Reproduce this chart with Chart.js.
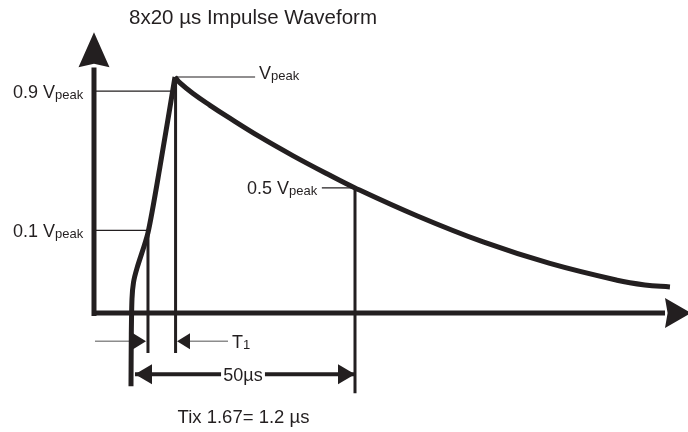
<!DOCTYPE html>
<html>
<head>
<meta charset="utf-8">
<script src="https://cdn.jsdelivr.net/npm/chart.js@4.4.1/dist/chart.umd.min.js"></script>
<style>
  html, body { margin: 0; padding: 0; background: #fff; }
  #wrap { width: 688px; height: 432px; }
</style>
</head>
<body>
<div id="wrap"><canvas id="wave"></canvas></div>
<script>
// time in µs from the foot of the front, amplitude relative to Vpeak
const riseT  = [0, 0.07, 0.22, 0.56, 1.34, 3.79, 6.47, 9.82]
const riseV  = [-0.31, -0.09, 0.06, 0.13, 0.19, 0.34, 0.62, 1.0]
const decayT = [9.82, 10.94, 13.84, 17.63, 21.43, 28.79, 36.2, 43.75, 50.0, 63.8, 78.6, 93.5, 108.5, 114.7, 120.3]
const decayV = [1.0, 0.975, 0.93, 0.88, 0.833, 0.746, 0.666, 0.59, 0.53, 0.412, 0.301, 0.21, 0.139, 0.119, 0.11]

// reference levels and their labels
const levelLabels = ['0.9 ', '', '0.1 ', '0.5 ']
const levelV      = [0.94, 1.0, 0.35, 0.53]
const levelFrom   = [-8.26, 9.82, -8.26, 42.6]
const levelTo     = [9.26, 27.7, 3.79, 50.0]

// vertical markers dropped from the curve
const markT      = [3.79, 9.95, 50.0]
const markTop    = [0.35, 1.0, 0.53]
const markBottom = [-0.17, -0.17, -0.34]

// axes (the arrows point to the tips)
const yAxisT = -8.26
const yAxisRange = [-0.013, 1.04]
const yAxisTip = 1.19
const xAxisRange = [-8.7, 119.2]
const xAxisTip = 125.0

// dimension arrows
const t1Level = -0.12
const t1Left  = [-8.04, 0.45, 3.35]    // line start, head base, tip
const t1Right = [10.27, 13.17, 21.65]  // tip, head base, line end
const spanLevel = -0.26
const spanTips  = [0.89, 50.0]
const spanGap   = [20.1, 29.9]

const titleText = '8x20 µs Impulse Waveform'
const spanText  = '50µs'
const noteText  = 'Tix 1.67= 1.2 µs'

const INK  = '#231f20'
const GREY = '#8c8c8c'
const FONT = '"Liberation Sans", Arial, sans-serif'

const pts = (xs, ys) => xs.map((x, i) => ({ x, y: ys[i] }))
const seg = (x1, y1, x2, y2) => [{ x: x1, y: y1 }, { x: x2, y: y2 }]

function lineSet(data, color, width, extra) {
  return Object.assign({ data, borderColor: color, borderWidth: width, pointRadius: 0, fill: false, tension: 0, clip: false, borderCapStyle: 'butt' }, extra || {})
}

const datasets = [
  lineSet(seg(yAxisT, yAxisRange[0], yAxisT, yAxisRange[1]), INK, 5),
  lineSet(seg(xAxisRange[0], 0, xAxisRange[1], 0), INK, 5),
  lineSet(pts(riseT, riseV), INK, 5, { tension: 0.25, borderJoinStyle: 'miter' }),
  lineSet(pts(decayT, decayV), INK, 5, { tension: 0.4 }),
]
levelV.forEach((v, i) => datasets.push(lineSet(seg(levelFrom[i], v, levelTo[i], v), INK, 1.2)))
markT.forEach((t, i) => datasets.push(lineSet(seg(t, markTop[i], t, markBottom[i]), INK, 3)))
datasets.push(lineSet(seg(t1Left[0], t1Level, t1Left[1], t1Level), GREY, 1.5))
datasets.push(lineSet(seg(t1Right[1], t1Level, t1Right[2], t1Level), GREY, 1.5))
datasets.push(lineSet(seg(spanTips[0], spanLevel, spanGap[0], spanLevel), INK, 4))
datasets.push(lineSet(seg(spanGap[1], spanLevel, spanTips[1], spanLevel), INK, 4))

function head(ctx, tx, ty, dx, dy, len, half, notch) {
  const bx = tx - dx * len, by = ty - dy * len
  const nx = -dy, ny = dx
  ctx.beginPath()
  ctx.moveTo(tx, ty)
  ctx.lineTo(bx + nx * half, by + ny * half)
  ctx.lineTo(tx - dx * len * (1 - notch), ty - dy * len * (1 - notch))
  ctx.lineTo(bx - nx * half, by - ny * half)
  ctx.closePath()
  ctx.fill()
}

function label(ctx, x, y, main, sub, align) {
  ctx.font = '18px ' + FONT
  const w1 = ctx.measureText(main).width
  ctx.font = '13px ' + FONT
  const w2 = sub ? ctx.measureText(sub).width : 0
  const x0 = align === 'center' ? x - (w1 + w2) / 2 : x
  ctx.textAlign = 'left'
  ctx.textBaseline = 'alphabetic'
  ctx.font = '18px ' + FONT
  ctx.fillText(main, x0, y + 6.5)
  if (sub) {
    ctx.font = '13px ' + FONT
    ctx.fillText(sub, x0 + w1, y + 7.5)
  }
}

const annotations = {
  id: 'annotations',
  afterDatasetsDraw(chart) {
    const { ctx } = chart
    const X = v => chart.scales.x.getPixelForValue(v)
    const Y = v => chart.scales.y.getPixelForValue(v)
    ctx.save()
    ctx.fillStyle = INK

    // axis arrow heads
    head(ctx, X(yAxisT), Y(yAxisTip), 0, -1, 35, 15.5, 0.1)
    head(ctx, X(xAxisTip), Y(0), 1, 0, 26, 15, 0.1)

    // T1 pointers
    head(ctx, X(t1Left[2]), Y(t1Level), 1, 0, X(t1Left[2]) - X(t1Left[1]), 8, 0)
    head(ctx, X(t1Right[0]), Y(t1Level), -1, 0, X(t1Right[1]) - X(t1Right[0]), 8, 0)

    // 50 µs span
    head(ctx, X(spanTips[0]), Y(spanLevel), -1, 0, 17, 10, 0)
    head(ctx, X(spanTips[1]), Y(spanLevel), 1, 0, 17, 10, 0)

    // texts
    ctx.textAlign = 'center'
    ctx.textBaseline = 'middle'
    ctx.font = '20.5px ' + FONT
    ctx.fillText(titleText, X(27.23), Y(1.25))

    label(ctx, X(-26.34), Y(levelV[0]), levelLabels[0] + 'V', 'peak')
    label(ctx, X(-26.34), Y(levelV[2]), levelLabels[2] + 'V', 'peak')
    label(ctx, X(25.89), Y(levelV[3]), levelLabels[3] + 'V', 'peak')
    label(ctx, X(28.57), Y(1.017), levelLabels[1] + 'V', 'peak')
    label(ctx, X(22.54), Y(t1Level), 'T', '1')
    label(ctx, X(25.0), Y(spanLevel), spanText, '', 'center')

    ctx.textAlign = 'center'
    ctx.textBaseline = 'middle'
    ctx.font = '18.5px ' + FONT
    ctx.fillText(noteText, X(25.11), Y(-0.445))
    ctx.restore()
  }
}

new Chart(document.getElementById('wave'), {
  type: 'line',
  data: { datasets },
  options: {
    responsive: true, maintainAspectRatio: false,
    animation: false, events: [],
    layout: { padding: 0 },
    plugins: { legend: { display: false }, tooltip: { enabled: false } },
    scales: {
      x: { type: 'linear', display: false, min: -29.241, max: 124.33 },
      y: { type: 'linear', display: false, min: -0.50424, max: 1.32627 },
    },
  },
  plugins: [annotations],
})
</script>
</body>
</html>
